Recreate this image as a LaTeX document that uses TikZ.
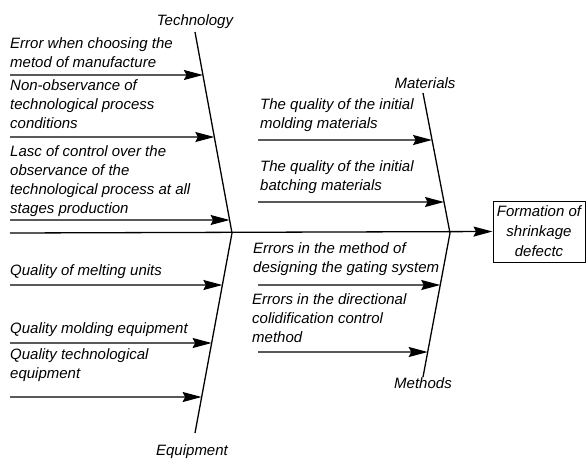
\documentclass[tikz,border=0pt]{standalone}
\usepackage{fontspec}
\setmainfont{Liberation Sans}
\usetikzlibrary{arrows.meta,calc}
\begin{document}
\begin{tikzpicture}[x=1pt,y=-1pt,
  bone/.style={line width=1.3pt},
  arr/.style={line width=1.3pt,-{Stealth[length=19pt,width=10pt,inset=2.5pt]}},
  txt/.style={font=\fontsize{15}{19}\selectfont\itshape, anchor=base west, align=left, inner sep=0pt},
  lbl/.style={font=\fontsize{15}{19}\selectfont\itshape, anchor=base, inner sep=0pt}]
\useasboundingbox (0,0) rectangle (586,459);
% bones
\coordinate (T0) at (195,32);
\coordinate (J1) at (232,233);
\coordinate (E0) at (195,433);
\coordinate (M0) at (423,93);
\coordinate (J2) at (450,233);
\coordinate (D0) at (423,377);
\coordinate (S0) at (10,233);
\node[draw, line width=1pt, minimum width=92pt, minimum height=61pt, inner sep=0pt,
  font=\fontsize{15}{20}\selectfont\itshape, align=center] (box) at (539,231.5)
  {Formation of\\shrinkage\\defectc};
\draw[bone] (T0) -- (J1) -- (E0);
\draw[bone] (M0) -- (J2) -- (D0);
\draw[arr] (S0) -- (box.west);
% labels
\node[lbl] (lT) at (195,25) {Technology};
\node[lbl] (lM) at (425,88) {Materials};
\node[lbl] (lD) at (423,388) {Methods};
\node[lbl] (lE) at (192,455) {Equipment};
% technology arrows
\coordinate (t1) at ($(T0)!0.2139!(J1)$);
\coordinate (t2) at ($(T0)!0.5224!(J1)$);
\coordinate (t3) at ($(T0)!0.9353!(J1)$);
\coordinate (t1s) at (10,75);
\coordinate (t2s) at (10,137);
\coordinate (t3s) at (10,220);
\draw[arr] (t1s) -- (t1);
\draw[arr] (t2s) -- (t2);
\draw[arr] (t3s) -- (t3);
\node[txt] (tx1) at (10,67) {Error when choosing the\\metod of manufacture};
\node[txt] (tx2) at (10,128) {Non-observance of\\technological process\\conditions};
\node[txt] (tx3) at (10,213) {Lasc of control over the\\observance of the\\technological process at all\\stages production};
% equipment arrows
\coordinate (e1) at ($(J1)!0.26!(E0)$);
\coordinate (e2) at ($(J1)!0.55!(E0)$);
\coordinate (e3) at ($(J1)!0.82!(E0)$);
\coordinate (e1s) at (10,285);
\coordinate (e2s) at (10,343);
\coordinate (e3s) at (10,397);
\draw[arr] (e1s) -- (e1);
\draw[arr] (e2s) -- (e2);
\draw[arr] (e3s) -- (e3);
\node[txt] (ex1) at (10,275) {Quality of melting units};
\node[txt] (ex2) at (10,333) {Quality molding equipment};
\node[txt] (ex3) at (10,378) {Quality technological\\equipment};
% materials arrows
\coordinate (m1) at ($(M0)!0.3357!(J2)$);
\coordinate (m2) at ($(M0)!0.7786!(J2)$);
\coordinate (m1s) at (258,140);
\coordinate (m2s) at (258,202);
\draw[arr] (m1s) -- (m1);
\draw[arr] (m2s) -- (m2);
\node[txt] (mx1) at (260,128) {The quality of the initial\\molding materials};
\node[txt] (mx2) at (260,190) {The quality of the initial\\batching materials};
% methods arrows
\coordinate (d1) at ($(J2)!0.3611!(D0)$);
\coordinate (d2) at ($(J2)!0.8264!(D0)$);
\coordinate (d1s) at (258,285);
\coordinate (d2s) at (258,352);
\draw[arr] (d1s) -- (d1);
\draw[arr] (d2s) -- (d2);
\node[txt] (dx1) at (253,272) {Errors in the method of\\designing the gating system};
\node[txt] (dx2) at (252,342) {Errors in the directional\\colidification control\\method};
\end{tikzpicture}
\end{document}
